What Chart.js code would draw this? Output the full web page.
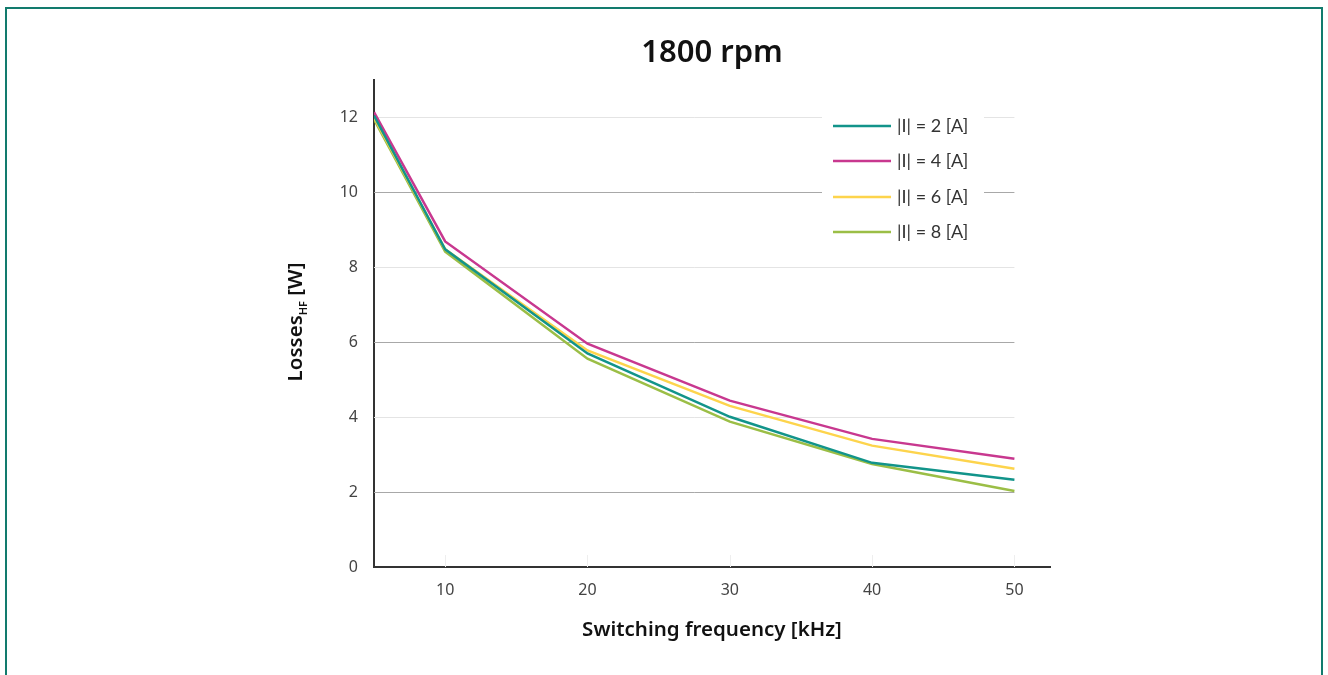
<!DOCTYPE html>
<html lang="en">
<head>
<meta charset="UTF-8">
<title>1800 rpm</title>
<script src="https://cdn.jsdelivr.net/npm/chart.js"></script>
<style>
    body { margin: 0; background: #fff; }
    canvas { display: block; }
</style>
</head>
<body>
<canvas id="chart" width="1328" height="675"></canvas>
<script>
const frequencies = [5, 10, 20, 30, 40, 50];
const xTicks = [10, 20, 30, 40, 50];
const yTicks = [0, 2, 4, 6, 8, 10, 12];
const seriesLabels = ['|I| = 2 [A]', '|I| = 4 [A]', '|I| = 6 [A]', '|I| = 8 [A]'];
const losses2A = [12.05, 8.48, 5.70, 4.01, 2.78, 2.33];
const losses4A = [12.14, 8.69, 5.96, 4.44, 3.42, 2.89];
const losses6A = [12.00, 8.48, 5.78, 4.30, 3.24, 2.62];
const losses8A = [11.95, 8.42, 5.56, 3.88, 2.75, 2.03];
const colors = ['#12948a', '#c8388f', '#fdd44c', '#9bbe46'];

const FONT = '"Noto Sans", sans-serif';
const LEGEND_FONT = 'Lato, sans-serif';

function toPoints(values) {
    return values.map((v, i) => ({ x: frequencies[i], y: v }));
}

const datasets = [losses2A, losses4A, losses6A, losses8A].map((vals, i) => ({
    label: seriesLabels[i],
    data: toPoints(vals),
    borderColor: colors[i],
    backgroundColor: colors[i],
    borderWidth: 2.5,
    pointRadius: 0,
    tension: 0
}));

// frame, title, gridlines, axis titles and legend
const decorations = {
    id: 'decorations',
    beforeDraw(chart) {
        const ctx = chart.ctx;
        ctx.save();
        ctx.fillStyle = '#fff';
        ctx.fillRect(0, 0, chart.width, chart.height);
        ctx.strokeStyle = '#127b6d';
        ctx.lineWidth = 2;
        ctx.strokeRect(6, 8, 1316, 700);
        ctx.restore();
    },
    beforeDatasetsDraw(chart) {
        const { ctx, scales: { x, y } } = chart;
        ctx.save();
        const left = x.getPixelForValue(5);
        const right = x.getPixelForValue(50);
        yTicks.forEach(v => {
            if (v === 0) return;
            const py = Math.round(y.getPixelForValue(v)) + 0.5;
            ctx.strokeStyle = (v % 4 === 2) ? '#a8a8a8' : '#e4e4e4';
            ctx.lineWidth = 1;
            ctx.beginPath();
            ctx.moveTo(left, py);
            ctx.lineTo(right, py);
            ctx.stroke();
        });
        xTicks.forEach(v => {
            const px = Math.round(x.getPixelForValue(v)) + 0.5;
            ctx.strokeStyle = '#eeeeee';
            ctx.beginPath();
            ctx.moveTo(px, y.getPixelForValue(0) - 12);
            ctx.lineTo(px, y.getPixelForValue(0));
            ctx.stroke();
        });
        ctx.restore();
    },
    afterDraw(chart) {
        const { ctx, chartArea } = chart;
        ctx.save();
        const cx = (chartArea.left + chartArea.right) / 2;

        // title
        ctx.fillStyle = '#111';
        ctx.textAlign = 'center';
        ctx.textBaseline = 'middle';
        ctx.font = '600 31px ' + FONT;
        ctx.fillText('1800 rpm', cx, 53);

        // x axis title
        ctx.font = '600 20.5px ' + FONT;
        ctx.fillText('Switching frequency [kHz]', cx, 630);

        // y axis title with subscript
        ctx.translate(295, 322);
        ctx.rotate(-Math.PI / 2);
        ctx.textAlign = 'left';
        ctx.textBaseline = 'alphabetic';
        const big = '600 20.5px ' + FONT;
        const small = '600 11px ' + FONT;
        ctx.font = big;
        const w1 = ctx.measureText('Losses').width;
        ctx.font = small;
        const w2 = ctx.measureText('HF').width;
        ctx.font = big;
        const w3 = ctx.measureText(' [W]').width;
        let sx = -(w1 + w2 + w3) / 2;
        const base = 7;
        ctx.fillText('Losses', sx, base);
        sx += w1;
        ctx.font = small;
        ctx.fillText('HF', sx, base + 5);
        sx += w2;
        ctx.font = big;
        ctx.fillText(' [W]', sx, base);
        ctx.restore();

        // legend box inside the plot
        ctx.save();
        ctx.fillStyle = '#fff';
        ctx.fillRect(822, 102, 162, 148);
        const rows = [126, 161, 197, 232];
        chart.data.datasets.forEach((ds, i) => {
            ctx.strokeStyle = ds.borderColor;
            ctx.lineWidth = 2.5;
            ctx.beginPath();
            ctx.moveTo(833, rows[i]);
            ctx.lineTo(891, rows[i]);
            ctx.stroke();
            ctx.fillStyle = '#333';
            ctx.font = '18px ' + LEGEND_FONT;
            ctx.textAlign = 'left';
            ctx.textBaseline = 'middle';
            ctx.fillText(ds.label, 897, rows[i]);
        });
        ctx.restore();
    }
};

new Chart(document.getElementById('chart'), {
    type: 'line',
    data: { datasets: datasets },
    plugins: [decorations],
    options: {
        responsive: false,
        animation: false,
        layout: { padding: { top: 80, right: 278, left: 0, bottom: 0 } },
        plugins: { legend: { display: false }, tooltip: { enabled: false } },
        scales: {
            x: {
                type: 'linear',
                min: 5,
                max: 52.5,
                afterBuildTicks: s => { s.ticks = xTicks.map(v => ({ value: v })); },
                afterFit: s => { s.height = 108; },
                grid: { display: false, drawTicks: false },
                border: { display: true, color: '#333', width: 2 },
                ticks: { padding: 14, color: '#444', font: { family: FONT, size: 16 } }
            },
            y: {
                type: 'linear',
                min: 0,
                max: 13,
                afterBuildTicks: s => { s.ticks = yTicks.map(v => ({ value: v })); },
                afterFit: s => { s.width = 374; },
                grid: { display: false, drawTicks: false },
                border: { display: true, color: '#333', width: 2 },
                ticks: { padding: 16, color: '#444', font: { family: FONT, size: 16 } }
            }
        }
    }
});
</script>
</body>
</html>
